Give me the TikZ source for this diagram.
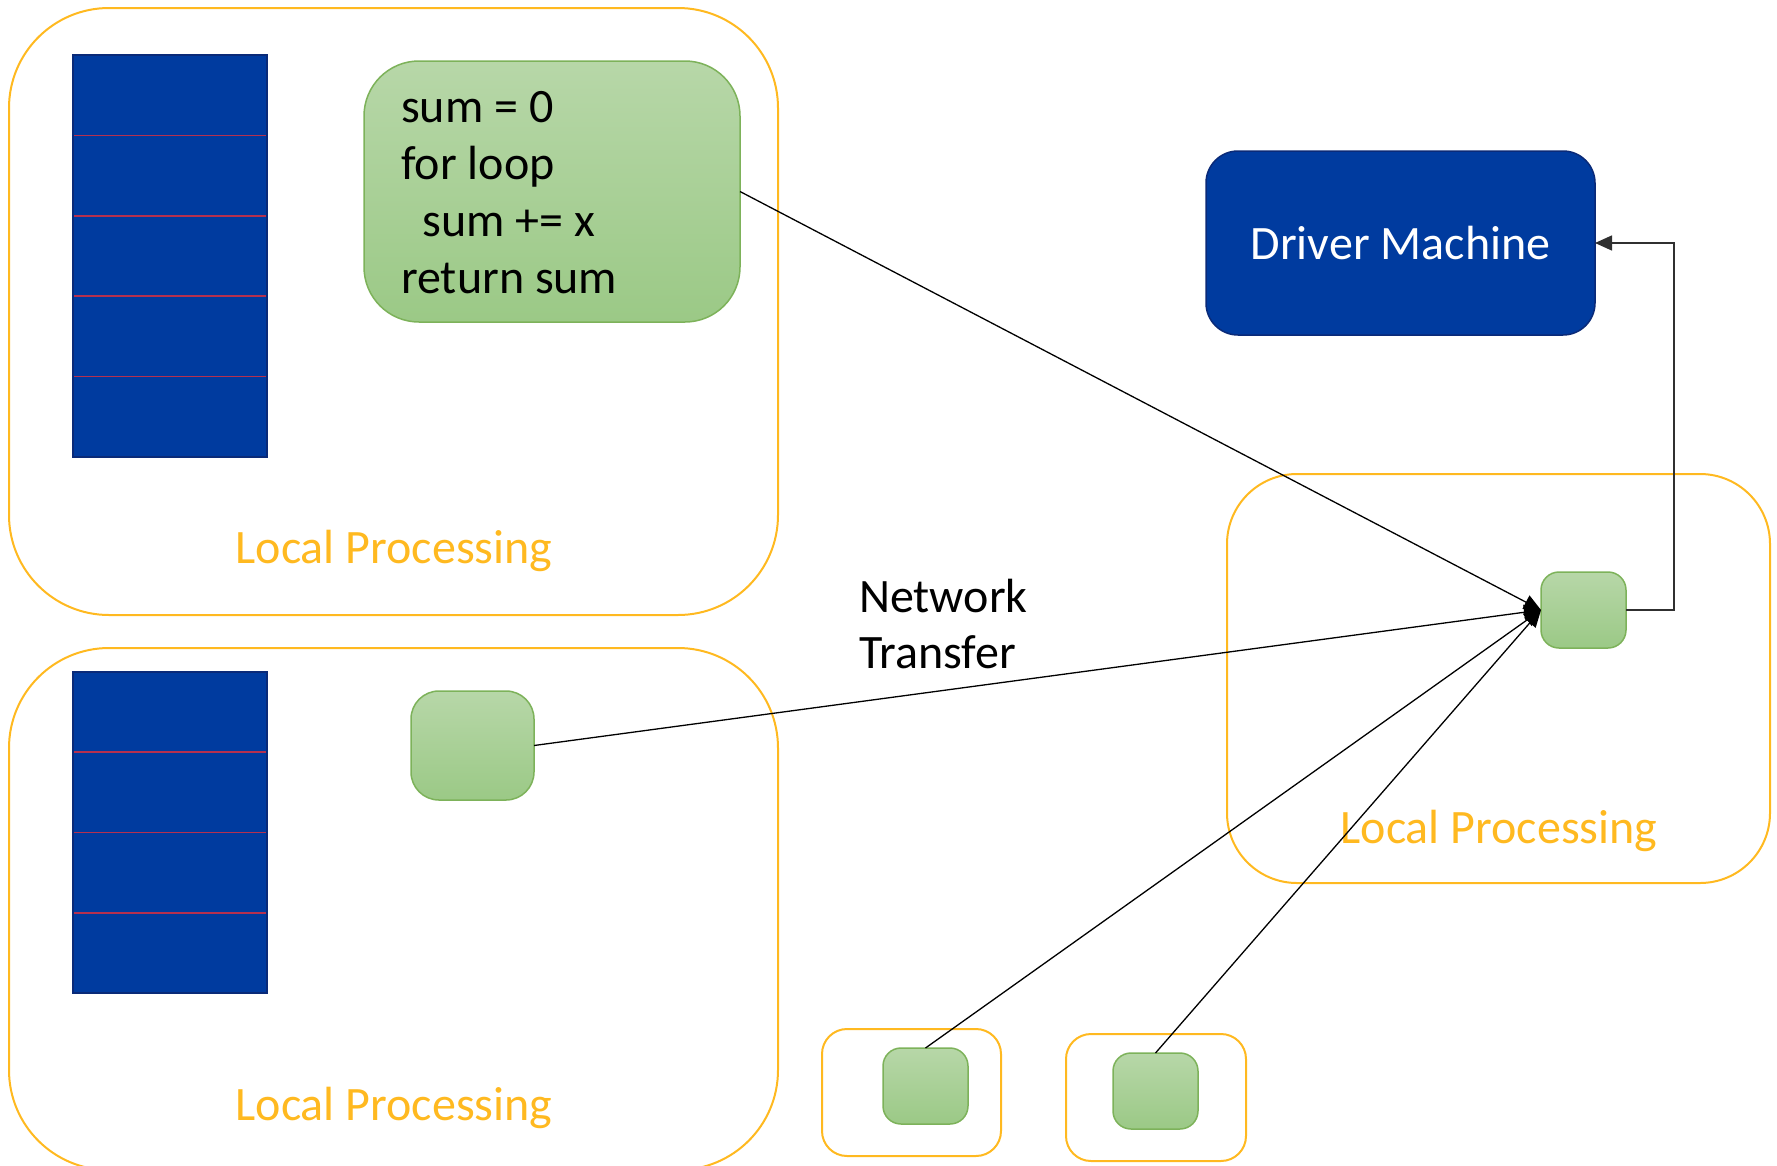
\documentclass[tikz,border=0pt]{standalone}
\usepackage{fontspec}
\setmainfont{Carlito}
\usetikzlibrary{arrows.meta}
\definecolor{procorange}{HTML}{FFB920}
\definecolor{partblue}{HTML}{003B9F}
\definecolor{partedge}{HTML}{0A2A78}
\definecolor{cutred}{HTML}{B5304F}
\definecolor{taskhi}{HTML}{B7D7A8}
\definecolor{tasklo}{HTML}{9BC986}
\definecolor{taskedge}{HTML}{7DB25A}
\definecolor{linkgray}{HTML}{303030}
\newcommand{\bigtext}{\fontsize{48}{57}\selectfont}
\tikzset{
    zone/.style={draw=procorange, line width=2pt, inner sep=0pt, outer sep=0pt},
    part/.style={draw=partedge, fill=partblue, line width=1.5pt, inner sep=0pt, outer sep=0pt},
    cut/.style={cutred, line width=1.6pt},
    task/.style={draw=taskedge, line width=1.5pt, top color=taskhi, bottom color=tasklo, inner sep=0pt, outer sep=0pt},
    proclabel/.style={text=procorange, font=\bigtext, anchor=base, inner sep=0pt},
    codeline/.style={font=\bigtext, anchor=base west, inner sep=0pt},
    flow/.style={-{Triangle[length=17pt,width=15pt]}, line width=1.3pt},
}

\begin{document}
\begin{tikzpicture}[x=1pt,y=-1pt]
\useasboundingbox (0,0) rectangle (1777,1165);

%%% zones
\node[zone, rounded corners=100pt, minimum width=769pt, minimum height=607pt] (zoneA) at (393.5,311.5) {};
\node[zone, rounded corners=100pt, minimum width=769pt, minimum height=522pt] (zoneB) at (393.5,909) {};
\node[zone, rounded corners=70pt, minimum width=543pt, minimum height=409pt] (zoneC) at (1498.5,678.5) {};
\node[zone, rounded corners=25pt, minimum width=179pt, minimum height=127pt] (zoneD) at (911.5,1092.5) {};
\node[zone, rounded corners=25pt, minimum width=180pt, minimum height=127pt] (zoneE) at (1156,1097.5) {};

% labels
\node[proclabel] (procA) at (394,563) {Local Processing};
\node[proclabel] (procB) at (394,1120) {Local Processing};
\node[proclabel] (procC) at (1499,843) {Local Processing};

%%% partitions
\node[part, minimum width=194pt, minimum height=402pt] (partA) at (170,256) {};
\foreach \k in {1,...,4}
    \draw[cut] (74,{55+\k*80.4}) -- (266,{55+\k*80.4});

\node[part, minimum width=194pt, minimum height=321pt] (partB) at (170,832.5) {};
\foreach \k in {1,...,3}
    \draw[cut] (74,{672+\k*80.25}) -- (266,{672+\k*80.25});

%%% tasks
\node[task, rounded corners=55pt, minimum width=376pt, minimum height=261pt] (code) at (552,191.5) {};
\foreach \txt [count=\i] in {sum = 0, for loop, \hspace*{0.45em}sum += x, return sum}
    \node[codeline] (line\i) at (401,{122+57*(\i-1)}) {\txt};

\node[task, rounded corners=28pt, minimum width=123pt, minimum height=109pt] (taskB) at (472.5,745.5) {};
\node[task, rounded corners=18pt, minimum width=85pt, minimum height=76pt] (gather) at (1583.5,610) {};
\node[task, rounded corners=18pt, minimum width=85pt, minimum height=76pt] (taskD) at (925.5,1086) {};
\node[task, rounded corners=18pt, minimum width=85pt, minimum height=76pt] (taskE) at (1155.5,1091) {};

%%% driver
\node[draw=partedge, fill=partblue, line width=1.5pt, rounded corners=32pt, inner sep=0pt, outer sep=0pt,
      minimum width=389pt, minimum height=184pt, text=white, font=\bigtext] (driver) at (1400.5,243) {Driver Machine};

\node[codeline] (net1) at (859,612) {Network};
\node[codeline] (net2) at (859,668) {Transfer};

%%% links
\draw[flow] (code.east) -- (gather.west);
\draw[flow] (taskB.east) -- (gather.west);
\draw[flow] (taskD.north) -- (gather.west);
\draw[flow] (taskE.north) -- (gather.west);
\draw[flow, linkgray, line width=1.5pt] (gather.east) -- ++(48,0) |- (driver.east);
\end{tikzpicture}
\end{document}
